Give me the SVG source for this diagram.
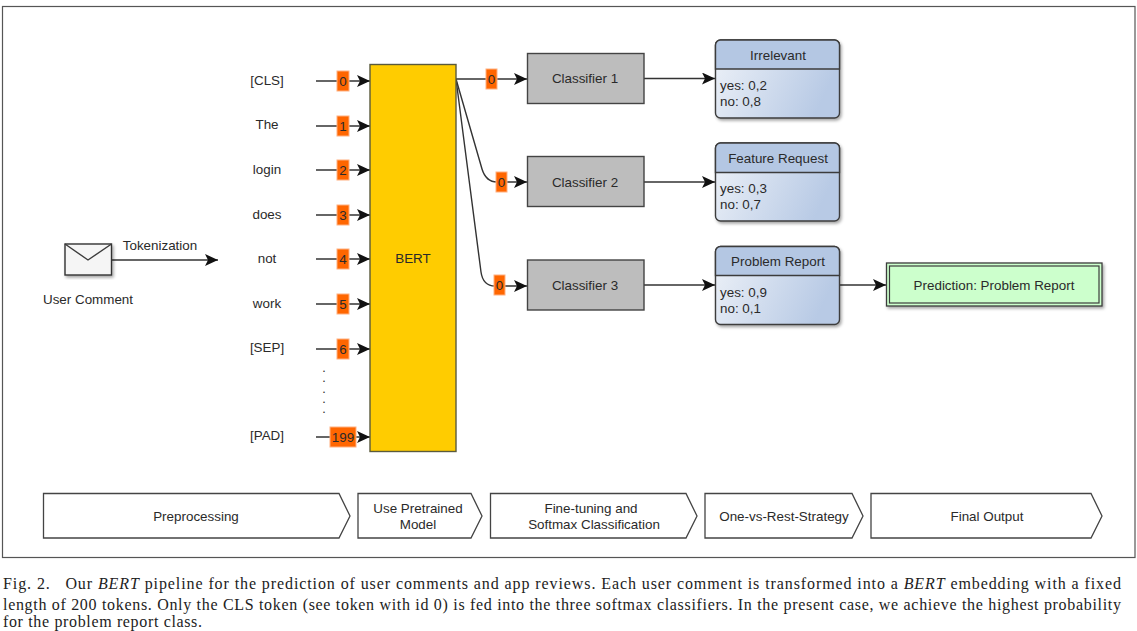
<svg xmlns="http://www.w3.org/2000/svg" width="1137" height="631" viewBox="0 0 1137 631">
<style>
text{font-family:"Liberation Sans",Arial,sans-serif;font-size:13.4px;fill:#2a2a2a;text-anchor:middle}
.c{fill:none;stroke:#333;stroke-width:1.4}
.a{marker-end:url(#arrow)}
.badge{fill:#ff6600;stroke:#ffb080;stroke-width:1}
.clf{fill:#bdbdbd;stroke:#444;stroke-width:1.4}
.hd{fill:#b4c7e3;stroke:#3c3c3c;stroke-width:1.4}
.ln{fill:none;stroke:#3c3c3c;stroke-width:1.4}
.st{fill:#fff;stroke:#444;stroke-width:1.3}
.l{text-anchor:start}
.dot{font-size:9px;font-weight:bold;fill:#333}
.cap{font-family:"Liberation Serif","Times New Roman",serif;font-size:16px;text-anchor:start;fill:#222;white-space:pre}
.cap tspan.i{font-style:italic}
</style>
<defs>
<marker id="arrow" markerUnits="userSpaceOnUse" markerWidth="14" markerHeight="12" refX="13" refY="6" orient="auto"><path d="M0 0L13 6L0 12L3 6Z" fill="#111"/></marker>
<linearGradient id="body" x1="0" y1="0" x2="1" y2="0.3"><stop offset="0" stop-color="#eef2f8"/><stop offset="1" stop-color="#b8cae5"/></linearGradient>
<filter id="sh" x="-10%" y="-10%" width="125%" height="125%"><feDropShadow dx="1.5" dy="2" stdDeviation="1.5" flood-color="#000" flood-opacity=".35"/></filter>
</defs>
<rect width="1137" height="631" fill="#fff"/>
<rect id="frame" x="2.5" y="6.5" width="1132.5" height="551" fill="#fff" stroke="#555" stroke-width="1.2"/>

<g id="connectors">
<path class="c a" d="M111 260H218"/>
<path class="c a" d="M316 81H370"/><path class="c a" d="M316 126H370"/><path class="c a" d="M316 170H370"/><path class="c a" d="M316 215H370"/><path class="c a" d="M316 259H370"/><path class="c a" d="M316 304H370"/><path class="c a" d="M316 349H370"/><path class="c a" d="M316 437H370"/>
<path class="c a" d="M456 79H527"/>
<path class="c a" d="M456 79L482 169Q486 182 497 182H527"/>
<path class="c a" d="M456 79L481 272Q483 286 495 286H527"/>
<path class="c a" d="M644 78.500H715"/><path class="c a" d="M644 182H715"/><path class="c a" d="M644 285H715"/>
<path class="c a" d="M839 285H886"/>
</g>

<g id="user-comment">
<rect x="65" y="244" width="46.500" height="31" fill="#f5f5f5" stroke="#333" stroke-width="1.4" filter="url(#sh)"/>
<path class="ln" d="M65 244L88 260L111.500 244"/>
<text x="88" y="304">User Comment</text>
<text x="160" y="250">Tokenization</text>
</g>

<g id="tokens">
<text x="267" y="85">[CLS]</text><text x="267" y="129">The</text><text x="267" y="174">login</text><text x="267" y="219">does</text><text x="267" y="263">not</text><text x="267" y="308">work</text><text x="267" y="352">[SEP]</text><text x="267" y="440">[PAD]</text>
<text class="dot" x="324" y="371.500">.</text><text class="dot" x="324" y="382">.</text><text class="dot" x="324" y="392.500">.</text><text class="dot" x="324" y="403">.</text><text class="dot" x="324" y="413">.</text>
</g>
<g id="token-ids">
<rect class="badge" x="337" y="71" width="12" height="20"/><text x="343" y="86">0</text>
<rect class="badge" x="337" y="116" width="12" height="20"/><text x="343" y="131">1</text>
<rect class="badge" x="337" y="160" width="12" height="20"/><text x="343" y="175">2</text>
<rect class="badge" x="337" y="205" width="12" height="20"/><text x="343" y="220">3</text>
<rect class="badge" x="337" y="249" width="12" height="20"/><text x="343" y="264">4</text>
<rect class="badge" x="337" y="294" width="12" height="20"/><text x="343" y="309">5</text>
<rect class="badge" x="337" y="339" width="12" height="20"/><text x="343" y="354">6</text>
<rect class="badge" x="330" y="427" width="26" height="20"/><text x="343" y="442">199</text>
</g>

<g id="bert"><rect x="370" y="64.500" width="86" height="387" fill="#ffcc00" stroke="#5a5a3c" stroke-width="1.4"/><text x="413" y="263">BERT</text></g>

<g id="clf-ids">
<rect class="badge" x="486" y="69" width="11" height="20"/><text x="491.500" y="84">0</text>
<rect class="badge" x="496" y="172" width="11" height="20"/><text x="501.500" y="187">0</text>
<rect class="badge" x="494" y="275" width="11" height="20"/><text x="499.500" y="290">0</text>
</g>

<g id="classifier-1"><rect class="clf" x="527.500" y="53.500" width="116.500" height="50"/><text x="585" y="83">Classifier 1</text></g>
<g id="classifier-2"><rect class="clf" x="527.500" y="156.500" width="116.500" height="50"/><text x="585" y="187">Classifier 2</text></g>
<g id="classifier-3"><rect class="clf" x="527.500" y="260" width="116.500" height="50"/><text x="585" y="290">Classifier 3</text></g>

<g id="irrelevant">
<rect x="715.500" y="40" width="124" height="78" rx="5" fill="url(#body)" stroke="#3c3c3c" stroke-width="1.4" filter="url(#sh)"/>
<path class="hd" d="M715.500 69V45a5 5 0 0 1 5-5H834.500a5 5 0 0 1 5 5V69Z"/>
<text x="778" y="60">Irrelevant</text><text class="l" x="720" y="90">yes: 0,2</text><text class="l" x="720" y="106">no: 0,8</text>
</g>
<g id="feature-request">
<rect x="715.500" y="143" width="124" height="78" rx="5" fill="url(#body)" stroke="#3c3c3c" stroke-width="1.4" filter="url(#sh)"/>
<path class="hd" d="M715.500 172.500V148a5 5 0 0 1 5-5H834.500a5 5 0 0 1 5 5V172.500Z"/>
<text x="778" y="163">Feature Request</text><text class="l" x="720" y="193">yes: 0,3</text><text class="l" x="720" y="209">no: 0,7</text>
</g>
<g id="problem-report">
<rect x="715.500" y="246.500" width="124" height="78" rx="5" fill="url(#body)" stroke="#3c3c3c" stroke-width="1.4" filter="url(#sh)"/>
<path class="hd" d="M715.500 275.500V251.500a5 5 0 0 1 5-5H834.500a5 5 0 0 1 5 5V275.500Z"/>
<text x="778" y="266">Problem Report</text><text class="l" x="720" y="297">yes: 0,9</text><text class="l" x="720" y="313">no: 0,1</text>
</g>

<g id="prediction">
<rect x="886.500" y="263" width="215.500" height="43" fill="#ccffcc" stroke="#3c3c3c" stroke-width="1.3" filter="url(#sh)"/>
<rect x="889.500" y="266" width="209.500" height="37" fill="none" stroke="#3c3c3c" stroke-width="1.2"/>
<text x="994" y="290">Prediction: Problem Report</text>
</g>

<g id="stages">
<g id="stage-1"><path class="st" d="M43.500 493.500H339L350 516L339 538H43.500Z"/><text x="196" y="521">Preprocessing</text></g>
<g id="stage-2"><path class="st" d="M358 493.500H471L482 516L471 538H358Z"/><text x="418" y="513">Use Pretrained</text><text x="418" y="529">Model</text></g>
<g id="stage-3"><path class="st" d="M490.500 493.500H686L697 516L686 538H490.500Z"/><text x="591" y="513">Fine-tuning and</text><text x="594" y="529">Softmax Classification</text></g>
<g id="stage-4"><path class="st" d="M705 493.500H852L863 516L852 538H705Z"/><text x="784" y="521">One-vs-Rest-Strategy</text></g>
<g id="stage-5"><path class="st" d="M871 493.500H1091L1102 516L1091 538H871Z"/><text x="987" y="521">Final Output</text></g>
</g>

<g id="caption">
<text class="cap" x="3" y="589" textLength="1118" lengthAdjust="spacing">Fig. 2.   Our <tspan class="i">BERT</tspan> pipeline for the prediction of user comments and app reviews. Each user comment is transformed into a <tspan class="i">BERT</tspan> embedding with a fixed</text>
<text class="cap" x="3" y="610" textLength="1118" lengthAdjust="spacing">length of 200 tokens. Only the CLS token (see token with id 0) is fed into the three softmax classifiers. In the present case, we achieve the highest probability</text>
<text class="cap" x="3" y="627" textLength="199" lengthAdjust="spacing">for the problem report class.</text>
</g>
</svg>
